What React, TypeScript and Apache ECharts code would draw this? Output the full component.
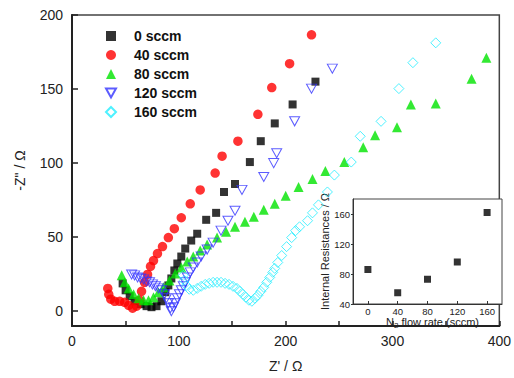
import React, { useEffect, useRef } from "react";
import * as echarts from "echarts";

const seriesNames = ["0 sccm", "40 sccm", "80 sccm", "120 sccm", "160 sccm"];

// Nyquist data [Z', -Z'']
const sccm0: [number, number][] = [
  [47.4, 18.8], [50.2, 14.1], [54, 10.1], [58.6, 6.7], [64.2, 4.7], [69.8, 3.4], [74.4, 2.7],
  [79.1, 3.4], [83.7, 6.7], [87.4, 12.8], [90.2, 17.4], [93, 22.1], [95.8, 27.5], [98.6, 32.2],
  [102.3, 36.9], [106, 42.3], [111.6, 47.7], [117.2, 52.3], [125.6, 61.7], [134.9, 66.4],
  [142.3, 80.5], [152.6, 85.9], [166.5, 100.7], [176.7, 114.8], [189.8, 126.8], [206.5, 139.6],
  [227.9, 155],
];
const sccm40: [number, number][] = [
  [33.5, 15.4], [34.4, 11.4], [36.3, 8.1], [40, 6.7], [44.7, 6.7], [49.3, 6], [53, 4], [56.7, 2],
  [60.5, 3.4], [63.3, 7.4], [65.1, 13.4], [67.9, 19.5], [70.7, 24.8], [73.5, 30.2], [76.3, 34.2],
  [80, 38.9], [84.7, 43.6], [90.2, 49.7], [95.8, 55.7], [102.3, 63.1], [110.7, 72.5], [120, 81.9],
  [134, 93.3], [140.5, 104.7], [155.3, 114.8], [174, 132.9], [187, 151], [203.7, 167.1],
  [224.2, 186.6],
];
const sccm80: [number, number][] = [
  [46.5, 24.2], [49.3, 19.5], [53, 15.4], [57.7, 11.4], [62.3, 8.7], [67, 7.4], [71.6, 7.4],
  [76.3, 9.4], [80.9, 12.8], [85.6, 16.1], [91.2, 20.8], [96.7, 25.5], [102.3, 29.5], [107.9, 33.6],
  [113.5, 36.9], [120, 40.9], [126.5, 45], [135.8, 49.7], [144.2, 53.7], [152.6, 57], [161.9, 60.4],
  [170.2, 63.8], [179.5, 68.5], [189.8, 72.5], [200, 77.9], [212.1, 83.9], [225.1, 89.3],
  [237.2, 94.6], [254.9, 100.7], [272.6, 110.7], [283.7, 118.8], [304.2, 124.2], [317.2, 139.6],
  [340.5, 140.3], [374, 157], [387.9, 171.1],
];
const sccm120: [number, number][] = [
  [55.8, 24.8], [58.6, 24.2], [61.4, 22.8], [64.2, 22.1], [67, 21.5], [69.8, 20.1], [72.6, 19.5],
  [75.3, 18.1], [78.1, 16.8], [80.9, 15.4], [83.7, 14.1], [86.5, 11.4], [88.4, 8.7], [90.2, 5.4],
  [92.1, 2], [93, 0], [94.9, 2.7], [96.7, 5.4], [98.6, 8.7], [100.5, 11.4], [102.3, 14.1],
  [104.2, 16.8], [106, 19.5], [107.9, 22.8], [110.7, 26.2], [113.5, 29.5], [117.2, 32.9],
  [120.9, 36.9], [126.5, 41.6], [132.1, 46.3], [139.5, 54.4], [146, 61.1], [152.6, 67.8],
  [159.1, 81.9], [179.5, 90.6], [188.8, 100], [191.6, 106.7], [208.4, 128.2], [224.2, 150.3],
  [243.7, 163.8],
];
const sccm160: [number, number][] = [
  [104.2, 24.2], [105.1, 20.8], [107, 17.4], [109.8, 14.8], [113.5, 14.1], [117.2, 15.4],
  [120.9, 16.8], [124.7, 18.1], [128.4, 18.8], [132.1, 19.5], [135.8, 19.5], [139.5, 19.5],
  [143.3, 18.8], [147, 18.1], [150.7, 16.8], [154.4, 15.4], [157.2, 13.4], [160, 11.4],
  [162.8, 9.4], [165.6, 7.4], [168.4, 6.7], [171.2, 8.7], [174, 10.7], [176.7, 13.4],
  [179.5, 16.1], [182.3, 19.5], [185.1, 22.8], [187.9, 26.2], [189.8, 28.9], [192.6, 32.9],
  [196.3, 37.6], [200.9, 43.6], [205.6, 49.7], [209.3, 54.4], [213, 57], [220.5, 61.1],
  [225.1, 66.4], [230.7, 71.8], [239.1, 80.5], [245.6, 91.9], [261.4, 100.7], [269.8, 118.1],
  [289.3, 128.2], [306, 150.3], [319.1, 167.8], [340.5, 181.2],
];

// Inset data
const flowRates = [0, 40, 80, 120, 160];
const internalResistances = [86, 55, 73, 96, 162];

const mainYTicks = [0, 50, 100, 150, 200];
const insetXTicks = [0, 40, 80, 120, 160];
const insetYTicks = [40, 80, 120, 160];

const FONT = "'Liberation Sans', Arial, Helvetica, sans-serif";
const TRI_DOWN = "path://M0,0L10,0L5,9Z";

export default function App() {
  const ref = useRef<HTMLDivElement>(null);
  useEffect(() => {
    if (!ref.current) return;
    const chart = echarts.init(ref.current, undefined, { renderer: "svg" });
    const axisText = { fontFamily: FONT, fontSize: 14, color: "#222" };
    const insetText = { fontFamily: FONT, fontSize: 9.5, color: "#222" };
    const option: any = {
      animation: false,
      backgroundColor: "#fff",
      legend: {
        orient: "vertical",
        left: 100,
        top: 23,
        itemWidth: 10,
        itemHeight: 10,
        itemGap: 3,
        textStyle: {
          fontFamily: FONT,
          fontSize: 14,
          fontWeight: "bold",
          color: "#111",
          lineHeight: 16,
          padding: [0, 0, 0, 13],
        },
        data: seriesNames,
      },
      grid: [
        { left: 72, top: 15, right: 12, bottom: 50, show: true, borderColor: "#444", borderWidth: 1.5 },
        {
          left: 353, top: 199, width: 149, height: 105, show: true,
          borderColor: "#444", borderWidth: 1, backgroundColor: "#fff",
        },
      ],
      xAxis: [
        {
          gridIndex: 0, type: "value", min: 0, max: 400, interval: 100,
          name: "Z' / Ω", nameLocation: "middle", nameGap: 33,
          nameTextStyle: { ...axisText },
          splitLine: { show: false },
          axisLine: { onZero: false, lineStyle: { color: "#222", width: 2 } },
          axisTick: { inside: true, length: 5, lineStyle: { color: "#222", width: 1.5 } },
          minorTick: { show: true, splitNumber: 2, length: 5, lineStyle: { color: "#222", width: 1.5 } },
          axisLabel: { ...axisText, margin: 8 },
        },
        {
          gridIndex: 1, type: "value", min: -20, max: 180,
          name: "N{sub|2} flow rate (sccm)", nameLocation: "middle", nameGap: 7,
          nameTextStyle: {
            fontFamily: FONT, fontSize: 11, color: "#222", padding: [0, 0, 0, 10],
            rich: { sub: { fontFamily: FONT, fontSize: 8, color: "#222", verticalAlign: "bottom", padding: [6, 0, 0, 0] } },
          },
          splitLine: { show: false },
          axisLine: { onZero: false, lineStyle: { color: "#333", width: 1 } },
          axisTick: { inside: true, length: 3, customValues: insetXTicks },
          axisLabel: { ...insetText, margin: 2, customValues: insetXTicks },
        },
      ],
      yAxis: [
        {
          gridIndex: 0, type: "value", min: -10, max: 200,
          name: '-Z" / Ω', nameLocation: "middle", nameGap: 45,
          nameTextStyle: { ...axisText },
          splitLine: { show: false },
          axisLine: { onZero: false, lineStyle: { color: "#222", width: 2 } },
          axisTick: { inside: true, length: 6, customValues: mainYTicks, lineStyle: { color: "#222", width: 1.5 } },
          axisLabel: { ...axisText, margin: 9, customValues: mainYTicks },
        },
        {
          gridIndex: 1, type: "value", min: 40, max: 180,
          name: "Internal Resistances / Ω", nameLocation: "middle", nameGap: 17,
          nameTextStyle: { fontFamily: FONT, fontSize: 11, color: "#222" },
          splitLine: { show: false },
          axisLine: { onZero: false, lineStyle: { color: "#333", width: 1 } },
          axisTick: { inside: false, length: 2, customValues: insetYTicks },
          axisLabel: { ...insetText, margin: 3, customValues: insetYTicks },
        },
      ],
      series: [
        {
          name: seriesNames[0], type: "scatter", xAxisIndex: 0, yAxisIndex: 0, data: sccm0,
          symbol: "rect", symbolSize: 8, itemStyle: { color: "#000" },
        },
        {
          name: seriesNames[1], type: "scatter", xAxisIndex: 0, yAxisIndex: 0, data: sccm40,
          symbol: "circle", symbolSize: 9.5, itemStyle: { color: "#ff0000" },
        },
        {
          name: seriesNames[2], type: "scatter", xAxisIndex: 0, yAxisIndex: 0, data: sccm80,
          symbol: "triangle", symbolSize: 10, itemStyle: { color: "#00e400" },
        },
        {
          name: seriesNames[3], type: "scatter", xAxisIndex: 0, yAxisIndex: 0, data: sccm120,
          symbol: TRI_DOWN, symbolSize: [10, 9],
          itemStyle: { color: "rgba(255,255,255,0)", borderColor: "#3333ff", borderWidth: 1 },
        },
        {
          name: seriesNames[4], type: "scatter", xAxisIndex: 0, yAxisIndex: 0, data: sccm160,
          symbol: "diamond", symbolSize: 10,
          itemStyle: { color: "rgba(255,255,255,0)", borderColor: "#22eeff", borderWidth: 1 },
        },
        {
          name: "inset", type: "scatter", xAxisIndex: 1, yAxisIndex: 1,
          data: flowRates.map((f, i) => [f, internalResistances[i]]),
          symbol: "rect", symbolSize: 7, itemStyle: { color: "#000" },
        },
      ],
    };
    chart.setOption(option);
    return () => chart.dispose();
  }, []);
  return <div ref={ref} style={{ width: 514, height: 378, position: "absolute", left: 0, top: 0 }} />;
}
